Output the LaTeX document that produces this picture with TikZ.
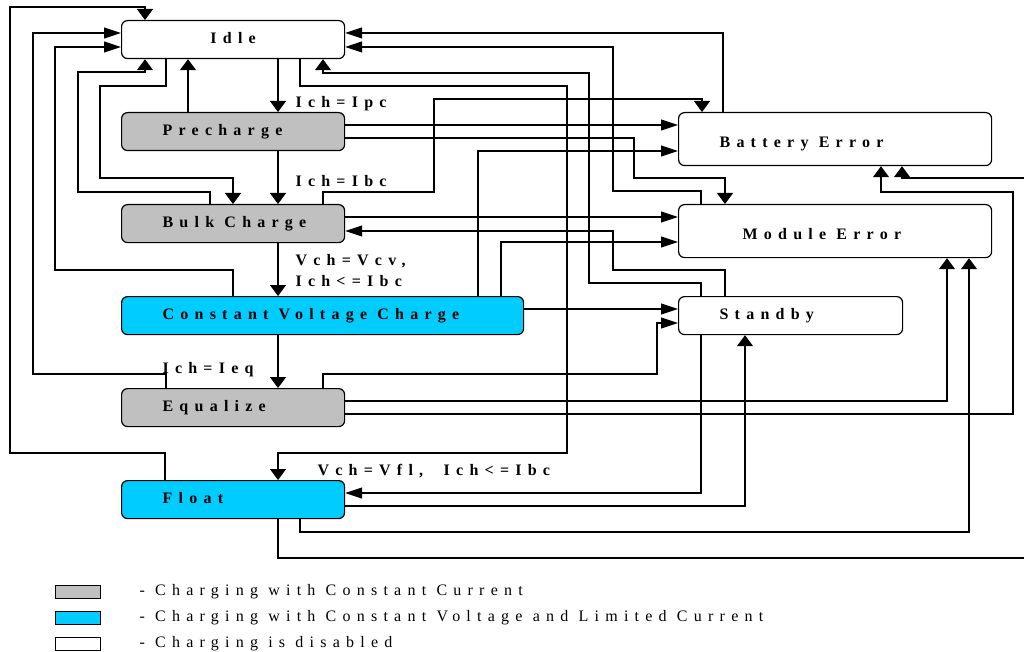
\documentclass[tikz,border=0pt]{standalone}
\usepackage{fontspec}
\setmainfont{Liberation Serif}
\newfontfamily\statefont[LetterSpace=39,Ligatures=NoCommon]{Liberation Serif}
\newfontfamily\legendfont[LetterSpace=39]{Liberation Serif}
\usetikzlibrary{arrows.meta}
\definecolor{ccgray}{RGB}{192,192,192}
\definecolor{cvblue}{RGB}{0,204,255}
\tikzset{
    pad/.store in=\statepad, wide/.store in=\statewidth,
    state/.style={draw, rounded corners=6pt, anchor=north west,
        inner xsep=0pt, inner ysep=0pt, minimum height=38pt, line width=1.2pt,
        text height=10pt, text depth=3pt, pad=41pt,
        execute at begin node={\hbox to \statewidth\bgroup\hspace*{\statepad}},
        execute at end node={\hfill\egroup},
        font=\fontsize{16}{19}\statefont\bfseries},
    hto/.style={-{Triangle[length=17pt,width=11pt]}},
    vto/.style={-{Triangle[length=11pt,width=16pt]}}
}

\begin{document}
\begin{tikzpicture}[x=1pt,y=-1pt,line width=1.1pt,line join=miter,
    cond/.style={anchor=base west, inner sep=0pt, font=\fontsize{16}{19}\statefont\bfseries},
    swatch/.style={draw, anchor=north west, minimum width=45pt, minimum height=13pt,
        inner sep=0pt, line width=1.4pt},
    key/.style={anchor=base west, inner sep=0pt, font=\fontsize{16}{19}\legendfont}]
    \clip (0,0) rectangle (1024,652);
    % states
    \node[state, wide=223pt, pad={0pt plus 1fill}] (Idle) at (121,20) {Idle};
    \node[state, fill=ccgray, wide=223pt] (Pre) at (121,112) {Precharge};
    \node[state, fill=ccgray, wide=223pt] (Bulk) at (121,204) {Bulk Charge};
    \node[state, fill=cvblue, wide=402pt] (CVC) at (121,296) {Constant Voltage Charge};
    \node[state, fill=ccgray, wide=223pt] (Eq) at (121,388) {Equalize};
    \node[state, fill=cvblue, wide=223pt] (Float) at (121,480) {Float};
    \node[state, wide=313pt, minimum height=53pt, text height=16pt, text depth=0pt] (BE)
        at (678,112) {Battery Error};
    \node[state, wide=313pt, minimum height=53pt, text height=16pt, text depth=0pt,
        pad=64pt] (ME) at (678,204) {Module Error};
    \node[state, wide=224pt] (Stby) at (678,296) {Standby};
    % conditions
    \node[cond] (lpc) at (295,108) {Ich=Ipc};
    \node[cond] (lbc) at (295,187) {Ich=Ibc};
    \node[cond] (lcv) at (295,265) {Vch=Vcv,};
    \node[cond] (lcvi) at (295,286) {Ich<=Ibc};
    \node[cond] (leq) at (162,373) {Ich=Ieq};
    \node[cond] (lfl) at (317,475) {Vch=Vfl,\ \ Ich<=Ibc};
    % main sequence
    \draw[vto] (Idle.south -| 278,0) -- (Pre.north -| 278,0);
    \draw[vto] (Pre.south -| 278,0) -- (Bulk.north -| 278,0);
    \draw[vto] (Bulk.south -| 278,0) -- (CVC.north -| 278,0);
    \draw[vto] (CVC.south -| 278,0) -- (Eq.north -| 278,0);
    \draw[vto] (Idle.south -| 300,0) |- (567,86) |- (278,453) -- (Float.north -| 278,0);
    \draw[vto] (Idle.south -| 166,0) |- (100,86) |- (233,178) -- (Bulk.north -| 233,0);
    % back to idle
    \draw[vto] (Pre.north -| 188,0) -- (Idle.south -| 188,0);
    \draw[vto] (Bulk.north -| 210,0) |- (78,192) |- (145,72) -- (Idle.south -| 145,0);
    \draw[hto] (CVC.north -| 233,0) |- (55,270) |- (Idle.west |- 0,47);
    \draw[hto] (Eq.north -| 166,0) |- (33,374) |- (Idle.west |- 0,33);
    \draw[vto] (Float.north -| 165,0) |- (10,453) |- (145,7) -- (Idle.north -| 145,0);
    \draw[hto] (BE.north -| 723,0) |- (Idle.east |- 0,33);
    \draw[hto] (ME.north -| 701,0) |- (613,191) |- (Idle.east |- 0,47);
    \draw[vto] (Stby.north -| 701,0) |- (589,283) |- (323,73) -- (Idle.south -| 323,0);
    % to battery error
    \draw[hto] (Pre.east |- 0,125) -- (BE.west |- 0,125);
    \draw[vto] (Bulk.north -| 323,0) |- (434,192) |- (702,99) -- (BE.north -| 702,0);
    \draw[hto] (CVC.north -| 478,0) |- (BE.west |- 0,151);
    \draw[vto] (Eq.east |- 0,414) -| (1013,192) -| (BE.south -| 881,0);
    \draw[vto] (Float.south -| 278,0) |- (1040,558) |- (902,178) -- (BE.south -| 902,0);
    % to module error
    \draw[vto] (Pre.east |- 0,138) -| (634,178) -| (ME.north -| 725,0);
    \draw[hto] (Bulk.east |- 0,217) -- (ME.west |- 0,217);
    \draw[hto] (CVC.north -| 501,0) |- (ME.west |- 0,242);
    \draw[vto] (Eq.east |- 0,401) -| (ME.south -| 947,0);
    \draw[vto] (Float.south -| 300,0) |- (969,532) -- (ME.south -| 969,0);
    % standby
    \draw[hto] (CVC.east |- 0,309) -- (Stby.west |- 0,309);
    \draw[hto] (Eq.north -| 323,0) |- (657,374) |- (Stby.west |- 0,323);
    \draw[hto] (Stby.north -| 725,0) |- (613,270) |- (Bulk.east |- 0,231);
    \draw[hto] (Stby.south -| 701,0) |- (Float.east |- 0,493);
    \draw[vto] (Float.east |- 0,506) -| (Stby.south -| 745,0);
    % legend
    \node[swatch, fill=ccgray] (kcc) at (55,585) {};
    \node[swatch, fill=cvblue] (kcv) at (55,611) {};
    \node[swatch] (kdis) at (55,637) {};
    \node[key] (tcc) at (139,595) {- Charging with Constant Current};
    \node[key] (tcv) at (139,621) {- Charging with Constant Voltage and Limited Current};
    \node[key] (tdis) at (139,647) {- Charging is disabled};
\end{tikzpicture}
\end{document}
